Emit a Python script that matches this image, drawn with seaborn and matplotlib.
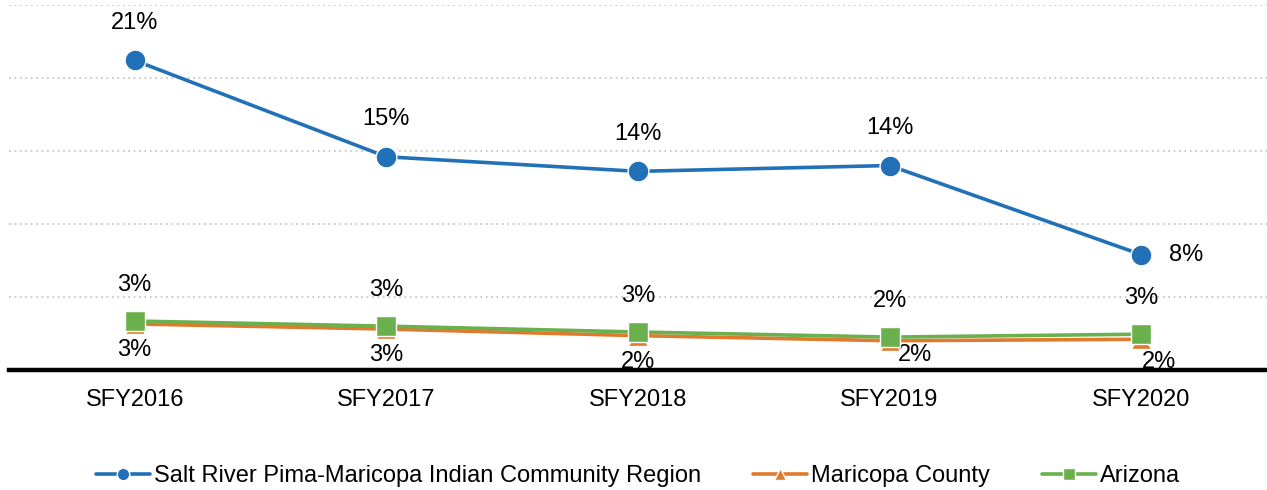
import pandas as pd
import seaborn as sns
import matplotlib
import matplotlib.pyplot as plt
matplotlib.use('Agg')

years = ["SFY2016", "SFY2017", "SFY2018", "SFY2019", "SFY2020"]
salt_river = [21.2, 14.6, 13.6, 14.0, 7.9]
maricopa = [3.15, 2.8, 2.35, 2.0, 2.1]
arizona = [3.35, 3.0, 2.6, 2.25, 2.45]
salt_labels = ["21%", "15%", "14%", "14%", "8%"]
maricopa_labels = ["3%", "3%", "2%", "2%", "2%"]
arizona_labels = ["3%", "3%", "3%", "2%", "3%"]

names = ["Salt River Pima-Maricopa Indian Community Region", "Maricopa County", "Arizona"]
colors = ["#2271B8", "#E07A2C", "#6AB04C"]

df = pd.DataFrame({
    "year": years * 3,
    "value": salt_river + maricopa + arizona,
    "series": [names[0]] * 5 + [names[1]] * 5 + [names[2]] * 5,
})

sns.set_style("white")
plt.rcParams['font.family'] = ['Liberation Sans', 'DejaVu Sans']
plt.rcParams['text.color'] = 'black'
plt.rcParams['xtick.color'] = 'black'

fig = plt.figure(figsize=(12.67, 4.9), dpi=100)
ax = fig.add_axes([0.007, 0.245, 0.993, 0.745])

markers = {names[0]: "o", names[1]: "^", names[2]: "s"}
sizes = {names[0]: 15, names[1]: 14, names[2]: 14}
z = {names[0]: 5, names[1]: 3, names[2]: 4}
for i, n in enumerate(names):
    sub = df[df.series == n]
    sns.lineplot(data=sub, x="year", y="value", ax=ax, color=colors[i],
                 marker=markers[n], markersize=sizes[n], linewidth=2.6,
                 markeredgecolor="white", markeredgewidth=1.0, label=n,
                 zorder=z[n], sort=False)

ax.set_xlim(-0.5, 4.5)
ax.set_ylim(0, 25)
ax.set_yticks([5, 10, 15, 20, 25])
ax.yaxis.grid(True, linestyle=(0, (1, 2)), color="#c8c8c8", linewidth=1.3)
ax.xaxis.grid(False)
ax.set_yticklabels([])
ax.tick_params(axis='y', length=0)
ax.tick_params(axis='x', length=0, pad=14, labelsize=17)
ax.set_xlabel("")
ax.set_ylabel("")
for s in ["top", "right", "left"]:
    ax.spines[s].set_visible(False)
ax.spines["bottom"].set_color("black")
ax.spines["bottom"].set_linewidth(3.2)

fs = 17
for i in range(5):
    if i == 4:
        ax.annotate(salt_labels[i], (i, salt_river[i]), xytext=(32, 0),
                    textcoords="offset points", ha="center", va="center", fontsize=fs)
    else:
        ax.annotate(salt_labels[i], (i, salt_river[i]), xytext=(0, 27),
                    textcoords="offset points", ha="center", va="center", fontsize=fs)
    ax.annotate(arizona_labels[i], (i, arizona[i]), xytext=(0, 26),
                textcoords="offset points", ha="center", va="center", fontsize=fs)
    dx, dy = 0, -19
    if i == 3:
        dx, dy = 18, -10
    elif i == 4:
        dx, dy = 13, -16
    ax.annotate(maricopa_labels[i], (i, maricopa[i]), xytext=(dx, dy),
                textcoords="offset points", ha="center", va="center", fontsize=fs)

ax.legend(loc="center", bbox_to_anchor=(0.5, -0.29), ncol=3, frameon=False,
          fontsize=17, handlelength=2.3, handletextpad=0.15, columnspacing=2.2,
          markerscale=0.6)

fig.savefig("out.png", dpi=100)
